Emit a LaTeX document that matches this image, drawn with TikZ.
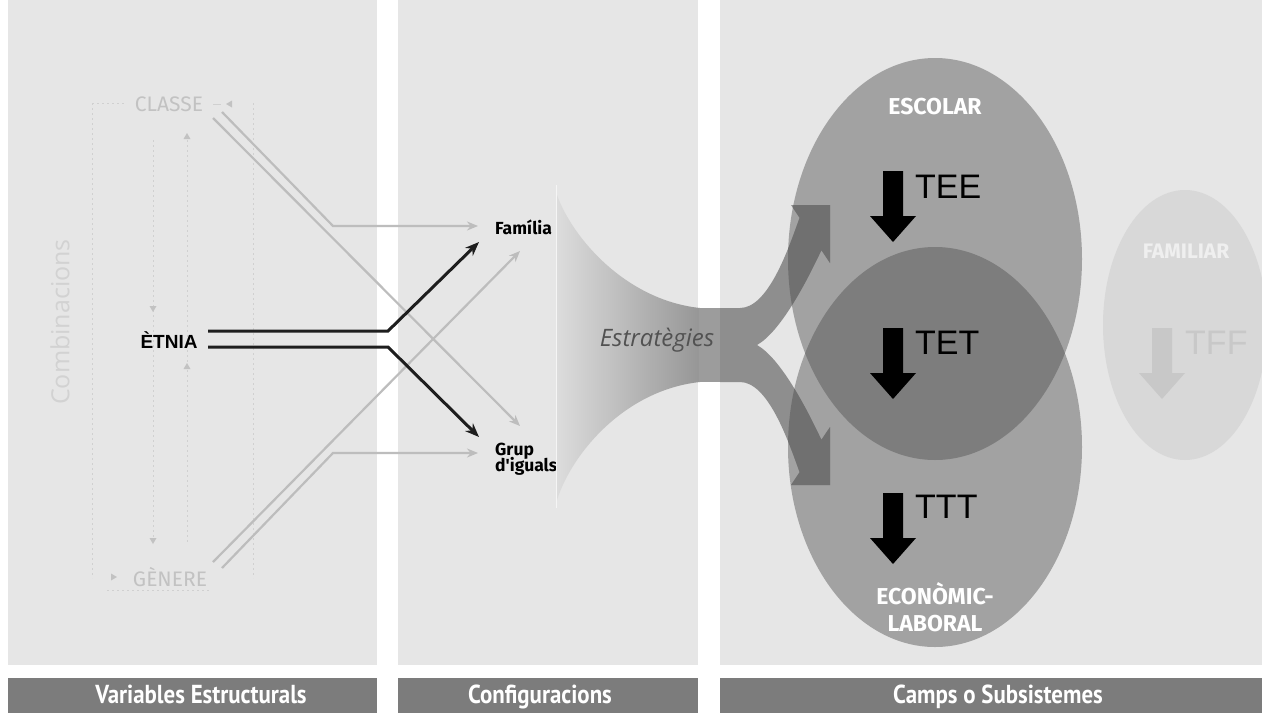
\documentclass[tikz,border=0pt]{standalone}
\usepackage{fontspec}
\setmainfont{Liberation Sans}
\newfontfamily\fira{Fira Sans}
\newfontfamily\opensans{Open Sans}
\newfontfamily\ptsans{PT Sans}
\usetikzlibrary{arrows.meta}
\definecolor{panelc}{HTML}{E6E6E6}
\definecolor{barc}{HTML}{7C7C7C}
\definecolor{dotc}{HTML}{D0D0D0}
\definecolor{lgrey}{HTML}{C2C2C2}
\definecolor{linec}{HTML}{BDBDBD}
\definecolor{blk}{HTML}{1E1E1E}
\definecolor{ellc}{HTML}{A2A2A2}
\definecolor{lensc}{HTML}{7D7D7D}
\definecolor{arrout}{HTML}{8E8E8E}
\definecolor{arrin}{HTML}{707070}
\definecolor{gapband}{HTML}{9C9C9C}
\definecolor{famc}{HTML}{D8D8D8}
\definecolor{famtxt}{HTML}{EFEFEF}
\definecolor{tffc}{HTML}{C8C8C8}
\definecolor{funL}{HTML}{DCDCDC}
\definecolor{funR}{HTML}{969696}
\definecolor{combc}{HTML}{D2D2D2}
\newcommand{\fatdown}[3]{\fill[#3] (#1,#2) ++(-10,0) -- ++(20,0) -- ++(0,45) -- ++(13,0) -- ++(-23,26) -- ++(-23,-26) -- ++(13,0) -- cycle;}
\tikzset{
  barbox/.style={fill=barc, text=white, minimum height=35pt, inner sep=0pt},
  bartxt/.style={text=white, inner sep=0pt, font=\ptsans\bfseries\fontsize{26}{26}\selectfont},
  dotline/.style={draw=dotc, line width=1pt, dash pattern=on 2pt off 3pt},
  tri/.style={fill=lgrey},
  greyarr/.style={draw=linec, line width=2.2pt, -{Stealth[length=11pt,width=9pt]}},
  blackarr/.style={draw=blk, line width=3pt, -{Stealth[length=14pt,width=11pt]}},
  vartxt/.style={text=lgrey, font=\fira\fontsize{21}{21}\selectfont, inner sep=0pt},
  conftxt/.style={text=black, font=\fira\bfseries\fontsize{17.5}{19}\selectfont, inner sep=0pt, align=left},
  camptxt/.style={text=white, font=\fira\bfseries\fontsize{23}{27}\selectfont, inner sep=0pt, align=center},
  ttxt/.style={text=black, font=\fontsize{34}{34}\selectfont, inner sep=0pt, anchor=west},
}
\begin{document}
\begin{tikzpicture}[x=1pt,y=-1pt]
\useasboundingbox (0,0) rectangle (1262,713);
\fill[white] (0,0) rectangle (1262,713);
% panels
\fill[panelc] (8,0) rectangle (377,665);
\fill[panelc] (398,0) rectangle (698,665);
\fill[panelc] (720,0) rectangle (1262,665);
% bottom bars
\node[barbox, minimum width=369pt] (bar1) at (192.5,695.5) {};
\node[barbox, minimum width=300pt] (bar2) at (548,695.5) {};
\node[barbox, minimum width=542pt] (bar3) at (991,695.5) {};
\node[bartxt, anchor=base] (bar1t) at (201,703) {\scalebox{0.88}[1]{Variables Estructurals}};
\node[bartxt, anchor=base] (bar2t) at (540,703) {\scalebox{0.88}[1]{Configuracions}};
\node[bartxt, anchor=base] (bar3t) at (998,703) {\scalebox{0.88}[1]{Camps o Subsistemes}};

% ---------- left panel ----------
\node[rotate=90, text=combc, font=\opensans\fontsize{25}{25}\selectfont] (comb) at (60,322) {Combinacions};
\draw[dotline] (92,103) -- (92,578);
\draw[dotline] (153,140) -- (153,542);
\draw[dotline] (187,135) -- (187,542);
\draw[dotline] (253,103) -- (253,578);
\draw[dotline] (92,103) -- (124,103);
\draw[dotline] (107,590) -- (210,590);
\fill[tri] (153,309) ++(-3.5,-3) -- ++(7,0) -- ++(-3.5,6) -- cycle;
\fill[tri] (153,541) ++(-3.5,-3) -- ++(7,0) -- ++(-3.5,6) -- cycle;
\fill[tri] (187,136) ++(-3.5,3) -- ++(7,0) -- ++(-3.5,-6) -- cycle;
\fill[tri] (187,366) ++(-3.5,3) -- ++(7,0) -- ++(-3.5,-6) -- cycle;
\fill[tri] (229,104) ++(3,-3.5) -- ++(0,7) -- ++(-6,-3.5) -- cycle;
\fill[tri] (114,577) ++(-3,-3.5) -- ++(0,7) -- ++(6,-3.5) -- cycle;
\draw[dotc, line width=1pt] (213,104) -- (221,104);

\node[vartxt] (classe) at (169,104) {CLASSE};
\node[vartxt] (genere) at (170,577) {GÈNERE};
\node[font=\bfseries\fontsize{19}{19}\selectfont, inner sep=0pt] (etnia) at (169,340) {ÈTNIA};

% ---------- configuracions ----------
\node[conftxt, anchor=west] (fam) at (495,227) {Família};
\node[conftxt, anchor=north west] (grup) at (495,443) {Grup\\[-3pt]d'iguals};

% coordinates for connectors
\coordinate (cA) at (222,112);
\coordinate (cAb) at (333,226);
\coordinate (famin) at (478,226);
\coordinate (cB) at (213,118);
\coordinate (grupdiag) at (520,426);
\coordinate (gA) at (222,568);
\coordinate (gAb) at (333,453);
\coordinate (grupin) at (478,453);
\coordinate (gB) at (213,562);
\coordinate (famdiag) at (520,251);
\coordinate (eU) at (208,331);
\coordinate (eUb) at (388,331);
\coordinate (famblk) at (479,242);
\coordinate (eL) at (208,347);
\coordinate (eLb) at (388,347);
\coordinate (grupblk) at (479,437);

\draw[greyarr] (cA) -- (cAb) -- (famin);
\draw[greyarr] (cB) -- (grupdiag);
\draw[greyarr] (gA) -- (gAb) -- (grupin);
\draw[greyarr] (gB) -- (famdiag);
\draw[blackarr] (eU) -- (eUb) -- (famblk);
\draw[blackarr] (eL) -- (eLb) -- (grupblk);

% ---------- funnel ----------
\shade[left color=funL, right color=funR] (557,195) .. controls (572,237) and (625,300) .. (700,308) -- (700,382) .. controls (625,390) and (572,453) .. (557,500) -- cycle;
\draw[white!60!panelc, line width=0.8pt] (556,185) -- (556,508);
\fill[gapband] (699,308) rectangle (720,382);

% ---------- ellipses ----------
\fill[ellc] (935,259) ellipse [x radius=147pt, y radius=201pt];
\fill[ellc] (935,447) ellipse [x radius=147pt, y radius=200pt];
\begin{scope}
\clip (935,259) ellipse [x radius=147pt, y radius=201pt];
\fill[lensc] (935,447) ellipse [x radius=147pt, y radius=200pt];
\end{scope}

% ---------- strategy arrows ----------
\def\uparrowpath{(720,308) -- (740,308) .. controls (768,308) and (788,250) .. (799.6,217.8) -- (791,205) -- (830,205) -- (830,263) -- (821.4,250.2) .. controls (805,285) and (780,332) .. (757,345) -- (720,345) -- cycle}
\def\loarrowpath{(720,382) -- (740,382) .. controls (768,382) and (788,440) .. (799.6,472.2) -- (791,485) -- (830,485) -- (830,427) -- (821.4,439.8) .. controls (805,405) and (780,358) .. (757,345) -- (720,345) -- cycle}
\fill[arrout] \uparrowpath;
\fill[arrout] \loarrowpath;
\begin{scope}
\clip (935,259) ellipse [x radius=147pt, y radius=201pt] (935,447) ellipse [x radius=147pt, y radius=200pt];
\fill[arrin] \uparrowpath;
\fill[arrin] \loarrowpath;
\end{scope}
\node[text=black!68, font=\opensans\itshape\fontsize{24}{24}\selectfont, inner sep=0pt] (estr) at (657,340) {Estratègies};

% ---------- familiar ----------
\fill[famc] (1185,325) ellipse [x radius=82pt, y radius=135pt];
\node[text=famtxt, font=\fira\bfseries\fontsize{21}{21}\selectfont, inner sep=0pt] (familiar) at (1186,251) {FAMILIAR};
\fatdown{1162}{328}{tffc}
\node[ttxt, text=tffc] (tff) at (1185,343) {TFF};

% ---------- labels in ellipses ----------
\node[camptxt] (escolar) at (935,107) {ESCOLAR};
\node[camptxt] (econ) at (935,607) {ECONÒMIC-\\LABORAL};
\fatdown{893}{171}{black}
\fatdown{893}{328}{black}
\fatdown{893}{493}{black}
\node[ttxt] (tee) at (915,187) {TEE};
\node[ttxt] (tet) at (915,343) {TET};
\node[ttxt] (ttt) at (915,507) {TTT};
\end{tikzpicture}
\end{document}
